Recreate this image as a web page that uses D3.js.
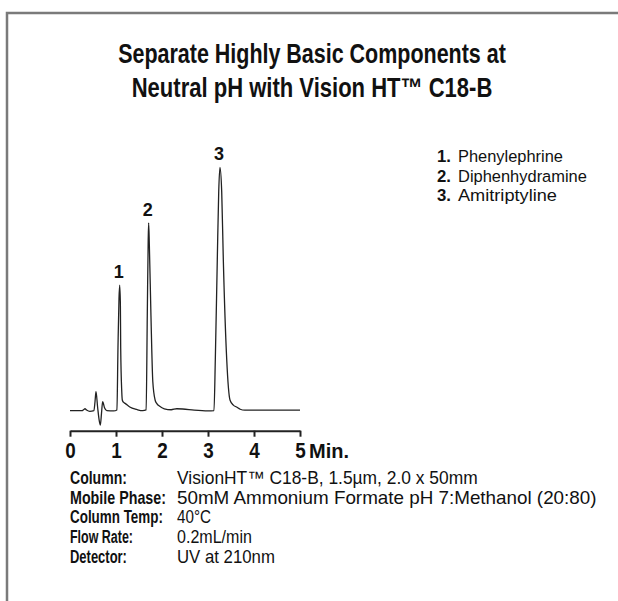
<!DOCTYPE html>
<html>
<head>
<meta charset="utf-8">
<script src="https://cdn.jsdelivr.net/npm/d3@7"></script>
<style>
html,body{margin:0;padding:0;background:#fff;}
svg{display:block;}
</style>
</head>
<body>
<svg id="chart" width="618" height="601"></svg>
<script>
// ---- data ----
const titleLines = ["Separate Highly Basic Components at", "Neutral pH with Vision HT\u2122 C18-B"];
const compoundNumbers = ["1.", "2.", "3."];
const compoundNames = ["Phenylephrine", "Diphenhydramine", "Amitriptyline"];
const peakLabels = ["1", "2", "3"];
const peakTimes = [1.08, 1.71, 3.26];      // min
const peakHeights = [51.6, 77.2, 100];     // relative response
const tickValues = [0, 1, 2, 3, 4, 5];
const axisUnit = "Min.";
const conditionLabels = ["Column:", "Mobile Phase:", "Column Temp:", "Flow Rate:", "Detector:"];
const conditionValues = ["VisionHT\u2122 C18-B, 1.5\u00b5m, 2.0 x 50mm",
  "50mM Ammonium Formate pH 7:Methanol (20:80)", "40\u00b0C", "0.2mL/min", "UV at 210nm"];
// chromatogram trace: time (min)
const traceTime = [0.00,0.26,0.30,0.326,0.36,0.43,0.52,0.545,0.565,0.60,0.635,0.66,0.685,0.71,0.75,0.80,0.95,
  1.02,1.043,1.065,1.08,1.095,1.102,1.125,1.137,1.16,1.2,1.3,1.45,1.58,
  1.655,1.68,1.70,1.71,1.725,1.76,1.80,1.85,1.885,1.95,2.05,2.2,2.32,2.45,2.7,3.0,
  3.13,3.159,3.202,3.233,3.26,3.298,3.333,3.407,3.478,3.55,3.62,3.70,3.80,4.2,5.0];
// chromatogram trace: relative response
const traceSignal = [0,0,0.5,0.8,0.3,-0.25,0,4,7.8,1.5,-4,-5.9,-1,3.7,1.2,0,-0.1,
  0.3,26,46,51.6,44,26,8,4.4,3.5,3,1.5,0.5,0,
  0.3,39,70,77.2,68,39,12,4.4,3,1.8,0.8,0.4,0.8,0.7,0.2,-0.1,
  0,21,62,90,100,90,62,21,4.4,2.3,1.5,0.6,0.2,0.2,0.2];

const svg = d3.select("#chart");
const condensed = "'Liberation Sans Narrow','Arial Narrow','Liberation Sans',Arial,sans-serif";
const regular = "'Liberation Sans',Arial,Helvetica,sans-serif";

// fit a text horizontally to a target width via a transform (keeps bbox honest)
function fit(sel, xPos, yPos, width) {
  sel.each(function(d, i) {
    const el = d3.select(this);
    el.attr("x", 0).attr("y", 0);
    const natural = this.getComputedTextLength();
    const w = typeof width === "function" ? width(d, i) : width;
    const s = w / natural;
    const xx = typeof xPos === "function" ? xPos(d, i) : xPos;
    const yy = typeof yPos === "function" ? yPos(d, i) : yPos;
    el.attr("transform", `translate(${xx},${yy}) scale(${s},1)`);
  });
}

// frame
svg.append("path")
  .attr("d", "M7,601 L7,13 L618,13")
  .attr("fill", "none").attr("stroke", "#7a7a7a").attr("stroke-width", 2.5);

// title
const titleW = [388, 361];
svg.selectAll("text.title").data(titleLines).join("text")
  .attr("class", "title")
  .attr("text-anchor", "middle")
  .attr("font-family", condensed).attr("font-weight", "bold").attr("font-size", 27)
  .attr("fill", "#111")
  .text(d => d)
  .call(fit, 312, (d, i) => 63 + i * 34, (d, i) => titleW[i]);

// scales
const x = d3.scaleLinear().domain([0, 5]).range([70, 300]);
const y = d3.scaleLinear().domain([0, 100]).range([410.7, 167.3]);

// trace
const pts = traceTime.map((t, i) => [t, traceSignal[i]]);
const line = d3.line().x(d => x(d[0])).y(d => y(d[1])).curve(d3.curveMonotoneX);
svg.append("path").datum(pts)
  .attr("d", line)
  .attr("fill", "none").attr("stroke", "#222").attr("stroke-width", 1.3)
  .attr("stroke-linejoin", "round");

// peak labels
svg.selectAll("text.peak").data(peakLabels).join("text")
  .attr("class", "peak")
  .attr("x", (d, i) => x(peakTimes[i]) - 1)
  .attr("y", (d, i) => y(peakHeights[i]) - 7)
  .attr("text-anchor", "middle")
  .attr("font-family", regular).attr("font-weight", "bold").attr("font-size", 18)
  .attr("fill", "#111")
  .text(d => d);

// axis
const axis = d3.axisBottom(x).tickValues(tickValues).tickSize(6).tickSizeOuter(0).tickPadding(5)
  .tickFormat(d3.format("d"));
const gAxis = svg.append("g").attr("transform", "translate(0,430.7)").call(axis);
gAxis.select(".domain").attr("stroke", "#222").attr("stroke-width", 2);
gAxis.selectAll(".tick line").attr("stroke", "#222").attr("stroke-width", 2);
gAxis.selectAll(".tick text")
  .attr("font-family", condensed).attr("font-weight", "bold").attr("font-size", 22)
  .attr("fill", "#111").attr("dy", null)
  .call(fit, 0, 27.5, 10.5);
svg.append("text")
  .attr("font-family", condensed).attr("font-weight", "bold").attr("font-size", 21)
  .attr("fill", "#111")
  .text(axisUnit)
  .call(fit, x(5) + 9, 458, 40);

// legend
const legY = d => 162 + d * 19.5;
svg.selectAll("text.lnum").data(compoundNumbers).join("text")
  .attr("class", "lnum")
  .attr("font-family", regular).attr("font-weight", "bold").attr("font-size", 16)
  .attr("fill", "#111").text(d => d)
  .call(fit, 437, (d, i) => legY(i), 14);
const nameW = [105, 129, 99];
svg.selectAll("text.lname").data(compoundNames).join("text")
  .attr("class", "lname")
  .attr("font-family", regular).attr("font-size", 16.5)
  .attr("fill", "#111").text(d => d)
  .call(fit, 458, (d, i) => legY(i), (d, i) => nameW[i]);

// conditions
const condY = i => 484 + i * 19.7;
const labelW = [57, 96, 93, 63, 57];
svg.selectAll("text.clabel").data(conditionLabels).join("text")
  .attr("class", "clabel")
  .attr("font-family", condensed).attr("font-weight", "bold").attr("font-size", 17.5)
  .attr("fill", "#111").text(d => d)
  .call(fit, 70, (d, i) => condY(i), (d, i) => labelW[i]);
const valW = [301, 420, 34, 75, 98];
svg.selectAll("text.cval").data(conditionValues).join("text")
  .attr("class", "cval")
  .attr("font-family", regular).attr("font-size", 18)
  .attr("fill", "#111").text(d => d)
  .call(fit, 177, (d, i) => condY(i), (d, i) => valW[i]);
</script>
</body>
</html>
